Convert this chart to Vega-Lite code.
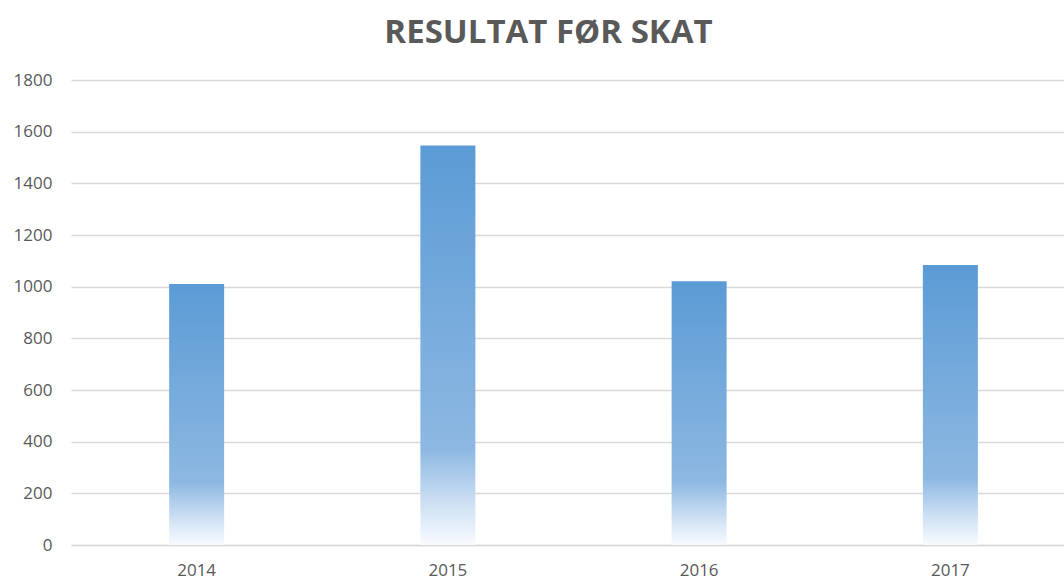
{
  "$schema": "https://vega.github.io/schema/vega-lite/v6.json",
  "autosize": "none",
  "padding": {"left": 71, "top": 80, "right": 0, "bottom": 36},
  "width": 1005,
  "height": 465,
  "background": "white",
  "title": {
    "text": "RESULTAT FØR SKAT",
    "font": "Open Sans",
    "fontSize": 33,
    "fontWeight": "bold",
    "color": "#595959",
    "anchor": "middle",
    "frame": "group",
    "baseline": "alphabetic",
    "offset": 35,
    "dx": -25,
    "dy": 40
  },
  "data": {
    "values": [
      {"year": "2014", "value": 1010},
      {"year": "2015", "value": 1546},
      {"year": "2016", "value": 1021},
      {"year": "2017", "value": 1084}
    ]
  },
  "mark": {
    "type": "bar",
    "size": 55,
    "color": {
      "gradient": "linear",
      "x1": 0, "y1": 0, "x2": 0, "y2": 1,
      "stops": [
        {"offset": 0, "color": "#5b9bd5"},
        {"offset": 0.76, "color": "#8db8e2"},
        {"offset": 0.9, "color": "#cfe1f4"},
        {"offset": 1, "color": "#f8fbff"}
      ]
    }
  },
  "encoding": {
    "x": {
      "field": "year",
      "type": "nominal",
      "scale": {"paddingInner": 0, "paddingOuter": 0},
      "axis": {
        "title": null,
        "labelAngle": 0,
        "labelFont": "Open Sans",
        "labelFontSize": 17,
        "labelColor": "#595959",
        "labelPadding": 17,
        "ticks": false,
        "domain": true,
        "domainColor": "#d9d9d9",
        "domainWidth": 1.5,
        "grid": false
      }
    },
    "y": {
      "field": "value",
      "type": "quantitative",
      "scale": {"domain": [0, 1800], "nice": false},
      "axis": {
        "title": null,
        "format": "d",
        "values": [0, 200, 400, 600, 800, 1000, 1200, 1400, 1600, 1800],
        "labelFont": "Open Sans",
        "labelFontSize": 17,
        "labelColor": "#595959",
        "labelPadding": 19,
        "ticks": false,
        "domain": false,
        "grid": true,
        "gridColor": "#d9d9d9",
        "gridWidth": 1.3
      }
    }
  },
  "config": {"view": {"stroke": null}}
}
